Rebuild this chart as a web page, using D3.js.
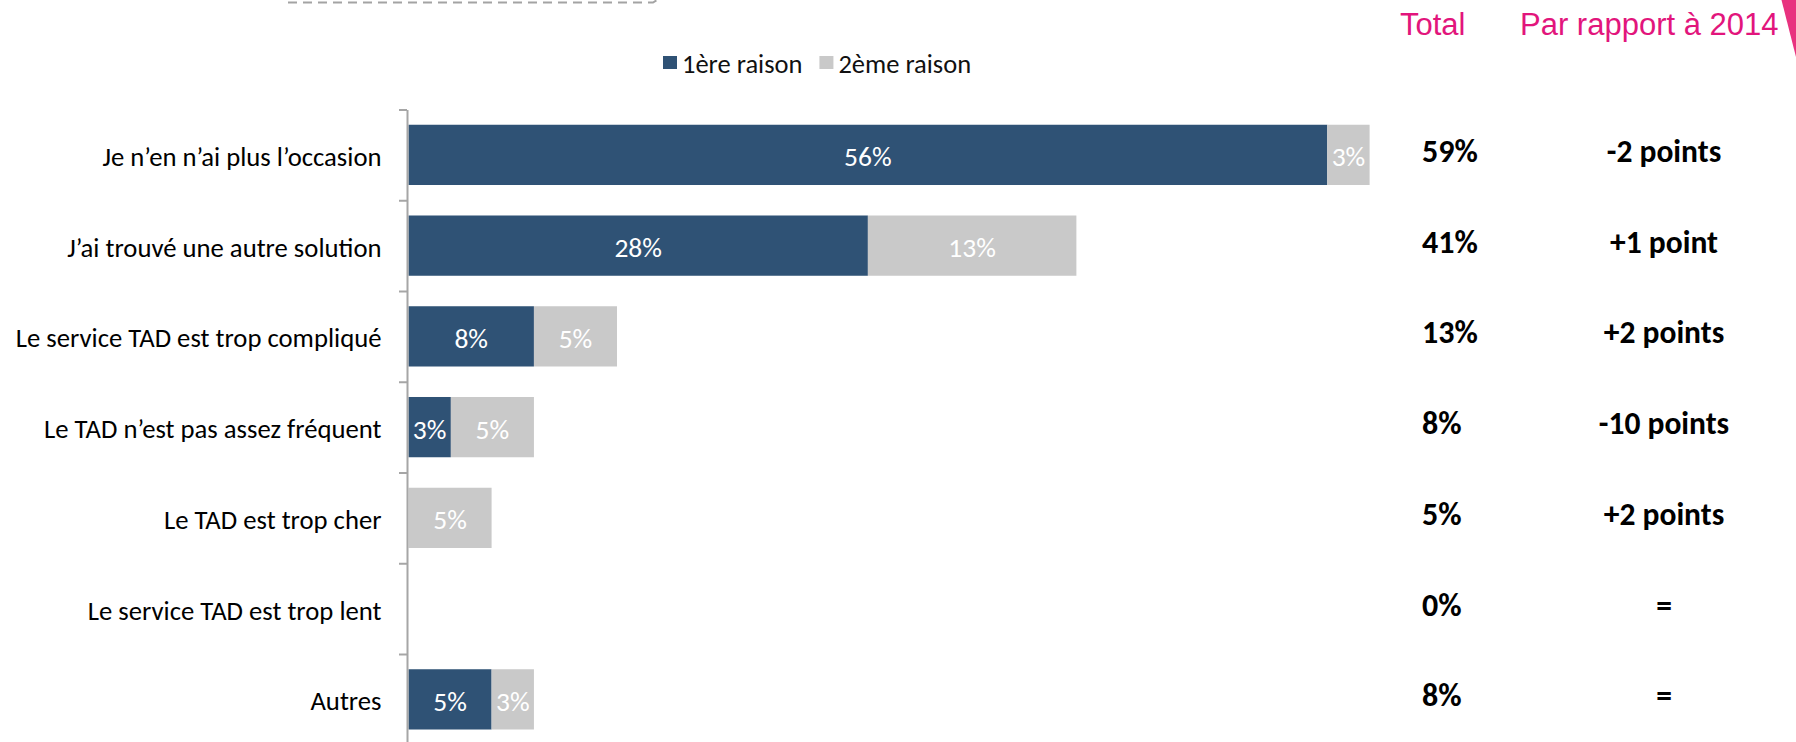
<!DOCTYPE html>
<html><head><meta charset="utf-8">
<script src="https://cdn.jsdelivr.net/npm/d3@7"></script>
<style>
body{margin:0;background:#fff;}
svg{display:block;}
</style>
</head><body>
<svg id="c" width="1796" height="742"></svg>
<script>
// ---------- data ----------
const categories = [
  "Je n’en n’ai plus l’occasion",
  "J’ai trouvé une autre solution",
  "Le service TAD est trop compliqué",
  "Le TAD n’est pas assez fréquent",
  "Le TAD est trop cher",
  "Le service TAD est trop lent",
  "Autres"
];
const firstReason  = [56.4, 28.2, 7.7, 2.6, 0, 0, 5.1];
const secondReason = [2.6, 12.8, 5.1, 5.1, 5.1, 0, 2.6];
const totals = ["59%", "41%", "13%", "8%", "5%", "0%", "8%"];
const vs2014 = ["-2 points", "+1 point", "+2 points", "-10 points", "+2 points", "=", "="];
const seriesNames = ["1ère raison", "2ème raison"];
const headers = ["Total", "Par rapport à 2014"];

// ---------- layout / style ----------
const W = 1796, H = 742;
const colors = ["#2F5275", "#C9C9C9"];
const bodyFont = "Carlito, Lato, sans-serif";
const headFont = "'Liberation Sans', Arial, sans-serif";
const pink = "#E2157C";

const svg = d3.select("#c");

const x = d3.scaleLinear().domain([0, 100]).range([408.5, 2037.5]);
const y = d3.scaleBand().domain(categories).range([109.5, 744.75])
  .paddingInner(0.336).paddingOuter(0.168);
const yb = d3.scaleLinear().domain([0, categories.length]).range([109.5, 744.75]);

// decorative dashed frame edge at top
svg.append("path")
  .attr("d", d3.line()([[288, 2.5], [653, 2.5], [657, 0]]))
  .attr("fill", "none").attr("stroke", "#A3A3A3").attr("stroke-width", 2)
  .attr("stroke-dasharray", "9,6");

// pink corner triangle
svg.append("path")
  .attr("d", d3.line()([[1781.5, 0], [1796, 0], [1796, 57]]) + "Z")
  .attr("fill", "#E8327F");

// headers
const hx = [1400, 1520];
svg.selectAll("text.head").data(headers).join("text")
  .attr("class", "head")
  .attr("x", (d, i) => hx[i]).attr("y", 35)
  .attr("font-family", headFont).attr("font-size", 31)
  .attr("fill", pink).text(d => d);

// legend
const leg = svg.append("g").attr("transform", "translate(663,0)");
let lx = 0;
seriesNames.forEach((name, i) => {
  const g = leg.append("g").attr("transform", `translate(${lx},0)`);
  g.append("rect").attr("x", 0).attr("y", 56).attr("width", 14).attr("height", 13)
    .attr("fill", colors[i]);
  const t = g.append("text").attr("x", 19).attr("y", 72.5)
    .attr("font-family", bodyFont).attr("font-size", 26.5).attr("fill", "#111")
    .text(name);
  lx += 19 + t.node().getComputedTextLength() + 17;
});

// stacked bars
const rows = categories.map((c, i) => ({cat: c, first: firstReason[i], second: secondReason[i]}));
const stacked = d3.stack().keys(["first", "second"])(rows);

const layers = svg.selectAll("g.layer").data(stacked).join("g")
  .attr("class", "layer").attr("fill", (d, i) => colors[i]);
layers.selectAll("rect").data(d => d).join("rect")
  .attr("x", d => x(d[0]))
  .attr("y", d => y(d.data.cat))
  .attr("width", d => x(d[1]) - x(d[0]))
  .attr("height", y.bandwidth());

// value labels inside segments
stacked.forEach((layer, li) => {
  svg.append("g").selectAll("text").data(layer.filter(d => d[1] - d[0] > 0)).join("text")
    .attr("x", d => x((d[0] + d[1]) / 2))
    .attr("y", d => y(d.data.cat) + y.bandwidth() / 2 + 11.5)
    .attr("text-anchor", "middle")
    .attr("font-family", bodyFont).attr("font-size", 27.5)
    .attr("fill", "#FFFFFF")
    .text(d => Math.round(d[1] - d[0]) + "%");
});

// axis with boundary ticks
const axisG = svg.append("g").attr("transform", "translate(407,0)")
  .call(d3.axisLeft(yb).tickValues(d3.range(categories.length + 1))
    .tickSize(8).tickSizeOuter(0).tickFormat(""));
axisG.selectAll("path, line").attr("stroke", "#A6A6A6").attr("stroke-width", 2);

// category labels
const labG = svg.append("g").attr("transform", "translate(407,0)")
  .call(d3.axisLeft(y).tickSize(0).tickPadding(25.5));
labG.select(".domain").remove();
labG.selectAll("text")
  .attr("dy", 11)
  .attr("font-family", bodyFont).attr("font-size", 26.7).attr("fill", "#000");

// right-hand table
svg.append("g").selectAll("text").data(totals).join("text")
  .attr("x", 1422)
  .attr("y", (d, i) => y(categories[i]) + y.bandwidth() / 2 + 7)
  .attr("font-family", bodyFont).attr("font-size", 32).attr("font-weight", "bold")
  .attr("fill", "#000").text(d => d);

svg.append("g").selectAll("text").data(vs2014).join("text")
  .attr("x", 1664)
  .attr("y", (d, i) => y(categories[i]) + y.bandwidth() / 2 + 7)
  .attr("text-anchor", "middle")
  .attr("font-family", bodyFont).attr("font-size", 31.5).attr("font-weight", "bold")
  .attr("fill", "#000").text(d => d);
</script>
</body></html>
